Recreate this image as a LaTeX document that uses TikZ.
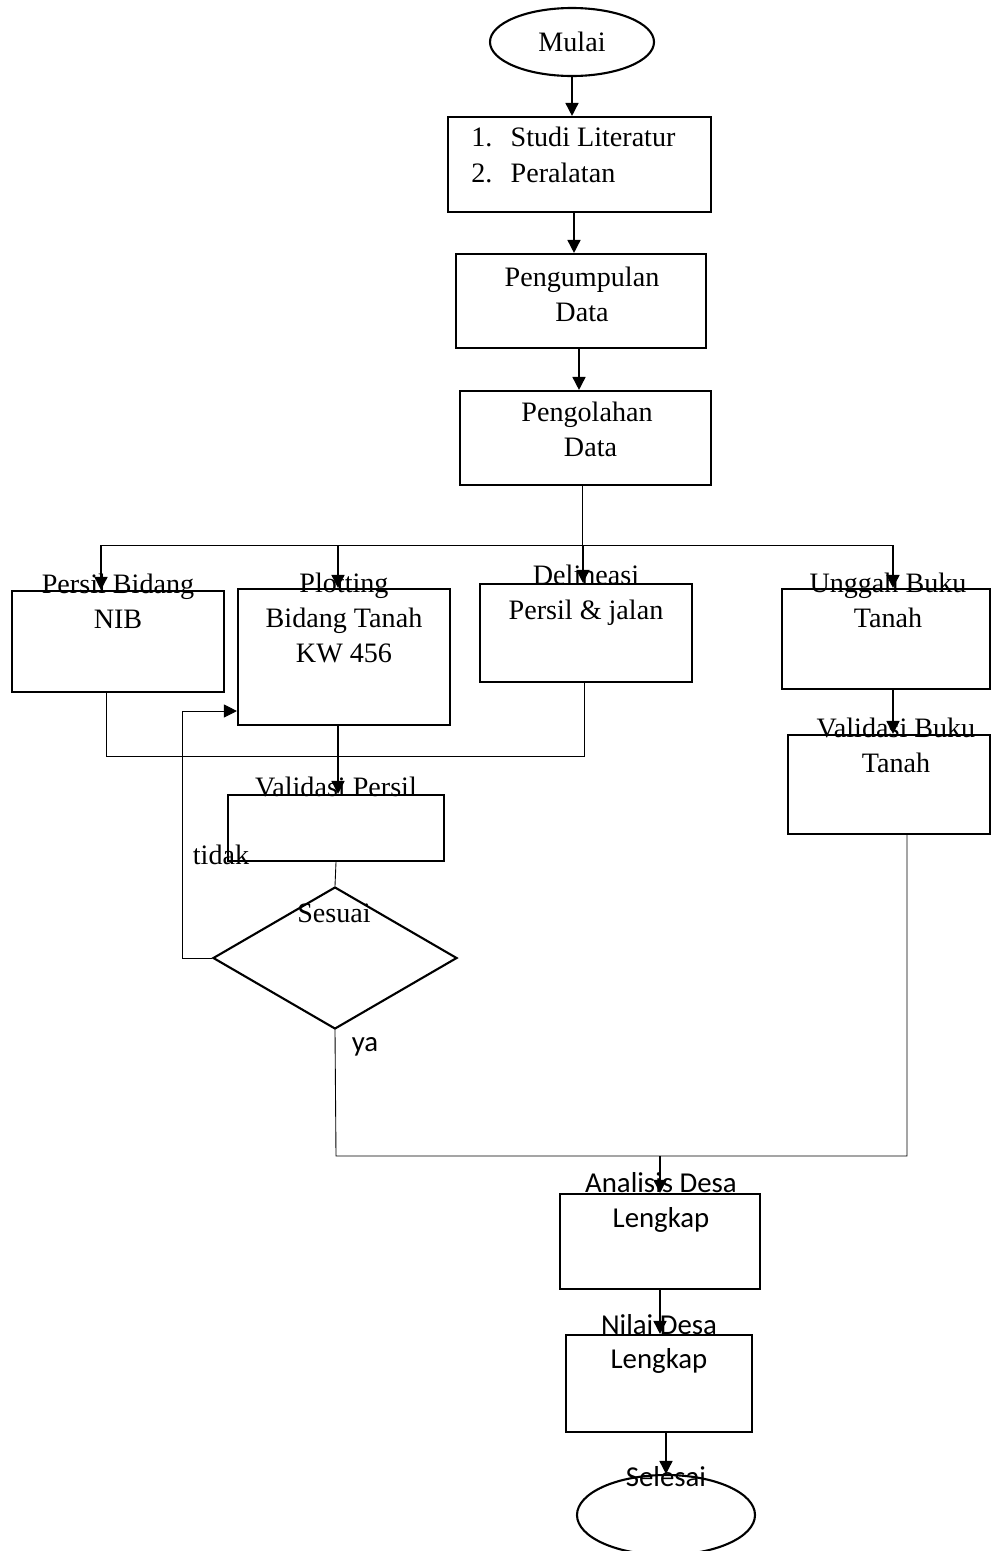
\documentclass[tikz,border=0pt]{standalone}
\usepackage{fontspec}
\setmainfont{Liberation Serif}
\newfontfamily\sansbody{Carlito}
\usetikzlibrary{positioning,shapes.geometric,arrows.meta,calc}

\begin{document}
\begin{tikzpicture}[
    box/.style={rectangle, draw, line width=1.2pt, inner sep=0pt},
    term/.style={ellipse, draw, line width=1.2pt, inner sep=0pt, font=\fontsize{16}{20}\selectfont},
    decide/.style={diamond, draw, line width=1.2pt, inner sep=0pt},
    txt/.style={align=center, inner sep=0pt, font=\fontsize{16}{20}\selectfont},
    stxt/.style={align=center, inner sep=0pt, font=\sansbody\fontsize{16.4}{19.5}\selectfont},
    arrow/.style={-{Triangle[length=0.26cm, width=0.26cm]}, line width=0.9pt},
    line/.style={line width=0.5pt}
]
\useasboundingbox (0,0) rectangle (19.84,-31.02);

% Main column
\node[term, minimum width=3.28cm, minimum height=1.36cm] (mulai) at (11.44,-0.84) {Mulai};
\node[box, minimum width=5.26cm, minimum height=1.90cm] (studi) at (11.59,-3.29) {};
\node[box, minimum width=5.00cm, minimum height=1.88cm] (kumpul) at (11.62,-6.02) {};
\node[box, minimum width=5.02cm, minimum height=1.88cm] (olah) at (11.71,-8.76) {};

% Branches
\node[box, minimum width=4.24cm, minimum height=2.02cm] (nib) at (2.36,-12.83) {};
\node[box, minimum width=4.24cm, minimum height=2.72cm] (plot) at (6.88,-13.14) {};
\node[box, minimum width=4.24cm, minimum height=1.96cm] (delin) at (11.72,-12.66) {};
\node[box, minimum width=4.16cm, minimum height=2.00cm] (unggah) at (17.72,-12.78) {};
\node[box, minimum width=4.04cm, minimum height=1.98cm] (valbuku) at (17.78,-15.69) {};
\node[box, minimum width=4.32cm, minimum height=1.32cm] (valpersil) at (6.72,-16.56) {};
\node[decide, minimum width=4.88cm, minimum height=2.84cm] (sesuai) at (6.70,-19.16) {};

% Final column
\node[box, minimum width=4.00cm, minimum height=1.90cm] (analisis) at (13.20,-24.83) {};
\node[box, minimum width=3.72cm, minimum height=1.94cm] (nilai) at (13.18,-27.67) {};
\node[term, minimum width=3.56cm, minimum height=1.60cm] (selesai) at (13.32,-30.30) {};

% Texts
\node[txt, anchor=west, align=left] (studiT) at (9.42,-3.10) {\makebox[1.4em][l]{1.}Studi Literatur\\\makebox[1.4em][l]{2.}Peralatan};
\node[txt] (kumpulT) at (11.64,-5.88) {Pengumpulan\\Data};
\node[txt] (olahT) at (11.74,-8.58) {Pengolahan\\\hspace{0.25em}Data};
\node[txt] (nibT) at (2.36,-12.03) {Persil Bidang\\NIB};
\node[txt] (plotT) at (6.88,-12.36) {Plotting\\Bidang Tanah\\KW 456};
\node[txt] (delinT) at (11.72,-11.90) {Delineasi\\Persil \& jalan};
\node[txt] (unggahT) at (17.76,-12.00) {Unggah Buku\\Tanah};
\node[txt] (valbukuT) at (17.92,-14.91) {Validasi Buku\\Tanah};
\node[txt] (valpersilT) at (6.72,-15.74) {Validasi Persil};
\node[txt] (sesuaiT) at (6.68,-18.26) {Sesuai};
\node[txt] (tidakT) at (4.42,-17.10) {tidak};
\node[stxt] (yaT) at (7.30,-20.94) {ya};
\node[stxt] (analisisT) at (13.22,-24.05) {Analisis Desa\\Lengkap};
\node[stxt] (nilaiT) at (13.18,-26.88) {Nilai Desa\\Lengkap};
\node[stxt] (selesaiT) at (13.32,-29.54) {Selesai};

% Split and merge points
\coordinate (brA) at (2.02,-10.90);
\coordinate (brB) at (6.76,-10.90);
\coordinate (brC) at (11.66,-10.90);
\coordinate (brD) at (17.86,-10.90);
\coordinate (mgL) at (2.12,-15.12);
\coordinate (mgR) at (11.68,-15.12);
\coordinate (back) at (3.64,-14.22);
\coordinate (mgY) at (6.72,-23.12);
\coordinate (mgZ) at (18.14,-23.12);

% Main flow
\draw[arrow] (mulai.south) -- (mulai.south |- studi.north);
\draw[arrow] ([xshift=-0.11cm]studi.south) -- ([xshift=-0.11cm]studi.south |- kumpul.north);
\draw[arrow] ([xshift=-0.04cm]kumpul.south) -- ([xshift=-0.04cm]kumpul.south |- olah.north);
\draw[line] ([xshift=-0.07cm]olah.south) -- ([xshift=-0.07cm]olah.south |- brA);
\draw[line] (brA) -- (brD);
\foreach \b/\n in {brA/nib, brB/plot, brC/delin, brD/unggah}
    \draw[arrow] (\b) -- (\b |- \n.north);

% Persil side
\draw[line] (mgL |- nib.south) -- (mgL) -- (mgR) -- (mgR |- delin.south);
\draw[arrow] (brB |- plot.south) -- (brB |- valpersil.north);
\draw[line] (valpersil.south) -- (sesuai.north);
\draw[line, -{Triangle[length=0.26cm, width=0.26cm]}] (sesuai.west) -| (back) -- (back -| plot.west);

% Buku tanah side
\draw[arrow] (brD |- unggah.south) -- (brD |- valbuku.north);

% Merge and finish
\draw[line] (sesuai.south) -- (mgY) -- (mgZ) -- (mgZ |- valbuku.south);
\draw[arrow] (analisis.north |- mgY) -- (analisis.north);
\draw[arrow] (analisis.south) -- (analisis.south |- nilai.north);
\draw[arrow] (selesai.north |- nilai.south) -- (selesai.north);

\end{tikzpicture}
\end{document}
